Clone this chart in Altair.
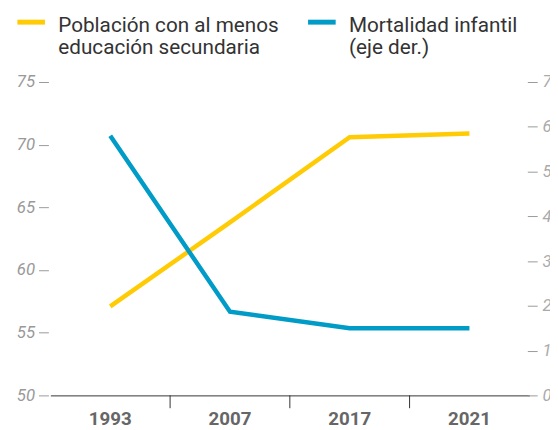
import altair as alt
import pandas as pd

years = ["1993", "2007", "2017", "2021"]
edu_values = [57.1, 63.8, 70.6, 70.9]
mort_values = [58.0, 18.7, 15.0, 15.0]
separator_years = ["2007", "2017", "2021"]
series_keys = ["edu", "mort"]
series_colors = ["#FFCB05", "#009BC6"]

edu_df = pd.DataFrame({"year": years, "value": edu_values, "serie": "edu"})
mort_df = pd.DataFrame({"year": years, "value": mort_values, "serie": "mort"})
sep_df = pd.DataFrame({"year": separator_years})

W, H = 486, 318
PAD_L = 43
FONT = "Roboto"

x_enc = alt.X(
    "year:N",
    sort=years,
    bandPosition=0.5,
    scale=alt.Scale(type="band", domain=years, paddingInner=0, paddingOuter=0),
    axis=alt.Axis(
        title=None, ticks=False, tickSize=0, labelAngle=0, domainColor="#333333",
        domainWidth=1, labelFont=FONT, labelFontSize=19, labelFontWeight="bold",
        labelColor="#666666", labelPadding=15, labelBaseline="top",
    ),
)

color_enc = alt.Color(
    "serie:N",
    scale=alt.Scale(domain=series_keys, range=series_colors),
    legend=alt.Legend(
        title=None, orient="none", direction="horizontal", legendX=-36, legendY=-74,
        symbolType="M-1,-0.25L1,-0.25", symbolStrokeWidth=5, symbolSize=784,
        labelFont=FONT, labelFontSize=21, labelColor="#333333", labelLimit=400,
        labelOffset=11, columnPadding=19,
        labelExpr="datum.value == 'edu' ? ['Población con al menos', 'educación secundaria'] : ['Mortalidad infantil', '(eje der.)']",
    ),
)

edu_line = alt.Chart(edu_df).mark_line(strokeWidth=4.5).encode(
    x=x_enc,
    y=alt.Y(
        "value:Q",
        scale=alt.Scale(domain=[50, 75], nice=False, zero=False),
        axis=alt.Axis(
            title=None, values=[50, 55, 60, 65, 70, 75], domain=False, grid=False,
            tickColor="#999999", tickSize=10, offset=2, labelPadding=4,
            labelFont=FONT, labelFontSize=17, labelFontStyle="italic", labelColor="#999999",
        ),
    ),
    color=color_enc,
)

mort_line = alt.Chart(mort_df).mark_line(strokeWidth=4.5).encode(
    x=x_enc,
    y=alt.Y(
        "value:Q",
        scale=alt.Scale(domain=[0, 70], nice=False),
        axis=alt.Axis(
            title=None, orient="right", values=[0, 10, 20, 30, 40, 50, 60, 70],
            domain=False, grid=False, tickColor="#999999", tickSize=10, offset=-2,
            labelPadding=5, labelFont=FONT, labelFontSize=17, labelFontStyle="italic",
            labelColor="#aaaaaa",
        ),
    ),
    color=color_enc,
)

separators = alt.Chart(sep_df).mark_rule(color="#333333", strokeWidth=1).encode(
    x=alt.X("year:N", sort=years, bandPosition=0),
    y=alt.value(H),
    y2=alt.value(H + 13),
)

chart = (
    alt.layer(edu_line, mort_line, separators)
    .resolve_scale(y="independent")
    .properties(
        width=W, height=H,
        autosize=alt.AutoSizeParams(type="none"),
        padding={"left": PAD_L, "top": 72, "right": 550 - PAD_L - W, "bottom": 32},
    )
    .configure_view(stroke=None)
)

chart.save("out.html", embed_options={"renderer": "svg", "actions": False})
